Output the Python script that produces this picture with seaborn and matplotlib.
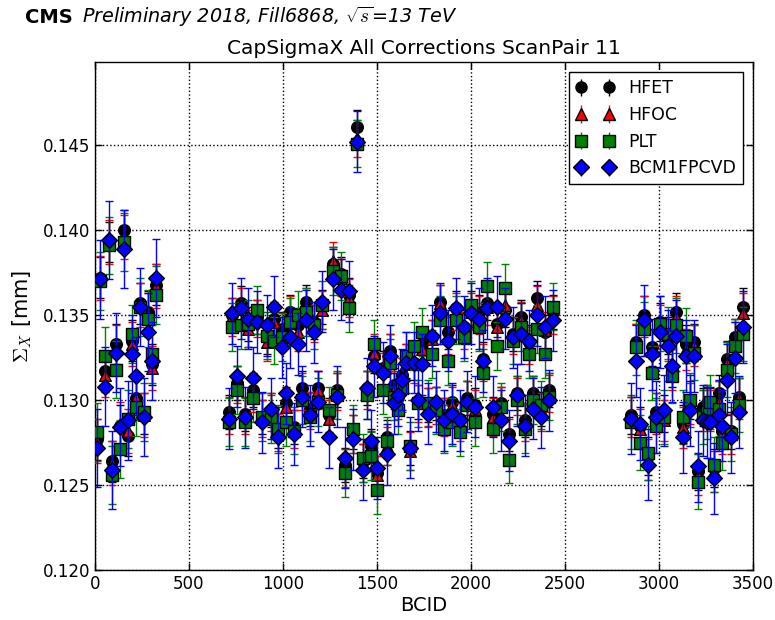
import numpy as np
import pandas as pd
import matplotlib
matplotlib.use("Agg")
import matplotlib.pyplot as plt
import seaborn as sns

# ---------------- data ----------------
bcid = [9, 27, 52, 73, 90, 112, 133, 154, 176, 197, 218, 239, 261, 282, 303, 323,
        714, 730, 754, 775, 798, 815, 839, 860, 890, 913, 935, 954, 975, 996, 1018, 1037,
        1060, 1080, 1101, 1121, 1142, 1165, 1186, 1206, 1246, 1268, 1289, 1308, 1330, 1351,
        1372, 1394, 1424, 1448, 1468, 1486, 1502, 1530, 1552, 1571, 1590, 1613, 1635, 1654,
        1676, 1697, 1720, 1739, 1771, 1793, 1814, 1835, 1856, 1877, 1899, 1919, 1940, 1961,
        1980, 2002, 2023, 2044, 2065, 2085, 2119, 2140, 2161, 2182, 2204, 2222, 2243, 2266,
        2287, 2308, 2330, 2351, 2372, 2394, 2413, 2434,
        2853, 2876, 2898, 2920, 2941, 2963, 2983, 3007, 3029, 3050, 3070, 3092, 3125, 3143,
        3166, 3188, 3210, 3232, 3254, 3273, 3295, 3317, 3337, 3361, 3383, 3404, 3426, 3446]

hfet = [.1277, .1372, .1317, .1393, .1264, .1333, .1285, .1400, .1279, .1335, .1301, .1357, .1292, .1352, .1321, .1368,
        .1293, .1350, .1310, .1357, .1292, .1345, .1306, .1349, .1290, .1337, .1294, .1348, .1282, .1342, .1298, .1352,
        .1284, .1344, .1307, .1358, .1295, .1346, .1307, .1355, .1291, .1380, .1306, .1374, .1262, .1362,
        .1281, .1461, .1264, .1307, .1273, .1326, .1257, .1319, .1278, .1329, .1309, .1302, .1315, .1323,
        .1272, .1322, .1299, .1333, .1297, .1337, .1298, .1358, .1291, .1340, .1299, .1354, .1289, .1343,
        .1301, .1354, .1297, .1352, .1324, .1357, .1292, .1345, .1298, .1353, .1280, .1339, .1304, .1349,
        .1288, .1334, .1304, .1360, .1295, .1340, .1306, .1352,
        .1291, .1334, .1285, .1350, .1267, .1331, .1293, .1346, .1292, .1338, .1319, .1352, .1286, .1333,
        .1300, .1334, .1258, .1296, .1298, .1296, .1260, .1304, .1282, .1324, .1282, .1337, .1302, .1355]

hfoc = [.1276, .1372, .1315, .1393, .1263, .1331, .1286, .1396, .1282, .1333, .1301, .1356, .1291, .1350, .1319, .1367,
        .1291, .1349, .1309, .1355, .1291, .1342, .1304, .1348, .1289, .1334, .1293, .1346, .1281, .1340, .1296, .1350,
        .1283, .1340, .1305, .1355, .1294, .1345, .1306, .1353, .1289, .1382, .1305, .1372, .1260, .1360,
        .1280, .1454, .1263, .1306, .1271, .1328, .1256, .1317, .1273, .1328, .1306, .1300, .1314, .1322,
        .1270, .1321, .1298, .1330, .1296, .1336, .1297, .1357, .1290, .1338, .1297, .1352, .1287, .1341,
        .1300, .1352, .1295, .1350, .1322, .1355, .1290, .1343, .1297, .1356, .1278, .1338, .1302, .1347,
        .1287, .1332, .1303, .1356, .1293, .1341, .1304, .1350,
        .1290, .1333, .1283, .1349, .1265, .1329, .1292, .1344, .1288, .1336, .1318, .1349, .1284, .1330,
        .1298, .1332, .1256, .1294, .1296, .1294, .1258, .1299, .1280, .1322, .1280, .1334, .1301, .1351]

plt_vals = [.1281, .1370, .1326, .1391, .1256, .1318, .1271, .1393, .1289, .1339, .1296, .1355, .1293, .1348, .1327, .1362,
            .1287, .1343, .1306, .1344, .1287, .1345, .1301, .1353, .1290, .1338, .1289, .1335, .1283, .1337, .1287, .1346,
            .1282, .1350, .1300, .1352, .1290, .1344, .1299, .1356, .1294, .1376, .1303, .1373, .1257, .1354,
            .1283, .1451, .1266, .1303, .1267, .1333, .1247, .1306, .1276, .1322, .1302, .1294, .1307, .1326,
            .1273, .1332, .1298, .1340, .1298, .1327, .1294, .1347, .1283, .1323, .1287, .1347, .1281, .1337,
            .1297, .1356, .1287, .1343, .1316, .1367, .1283, .1332, .1296, .1366, .1265, .1335, .1300, .1343,
            .1283, .1327, .1300, .1342, .1297, .1327, .1302, .1355,
            .1287, .1331, .1275, .1342, .1269, .1316, .1285, .1345, .1290, .1339, .1314, .1344, .1290, .1338,
            .1300, .1328, .1252, .1290, .1293, .1299, .1262, .1295, .1275, .1318, .1280, .1332, .1297, .1339]

bcm = [.1272, .1371, .1308, .1394, .1259, .1328, .1284, .1389, .1288, .1327, .1314, .1355, .1290, .1340, .1323, .1372,
       .1289, .1351, .1314, .1354, .1290, .1348, .1313, .1346, .1287, .1344, .1295, .1355, .1278, .1331, .1304, .1337,
       .1280, .1333, .1302, .1347, .1291, .1340, .1299, .1358, .1278, .1371, .1302, .1365, .1266, .1364,
       .1277, .1452, .1259, .1307, .1276, .1320, .1260, .1316, .1268, .1326, .1298, .1303, .1312, .1322,
       .1272, .1322, .1300, .1321, .1292, .1338, .1299, .1351, .1288, .1335, .1292, .1354, .1288, .1343,
       .1299, .1351, .1296, .1348, .1323, .1354, .1296, .1355, .1288, .1348, .1276, .1337, .1303, .1339,
       .1285, .1335, .1295, .1350, .1290, .1343, .1300, .1347,
       .1289, .1323, .1286, .1347, .1262, .1327, .1290, .1340, .1294, .1332, .1320, .1338, .1278, .1326,
       .1294, .1326, .1261, .1288, .1287, .1287, .1254, .1291, .1285, .1312, .1278, .1325, .1293, .1343]

detectors = ["HFET", "HFOC", "PLT", "BCM1FPCVD"]
train_edges = [500, 2600]
err_hfet = [0.0012, 0.0010, 0.0011]
err_hfoc = [0.0013, 0.0011, 0.0012]
err_plt = [0.0017, 0.0014, 0.0016]
err_bcm = [0.0023, 0.0018, 0.0021]

# ---------------- build table ----------------
train = np.searchsorted(train_edges, bcid)
frames = []
for name, vals, errs in zip(detectors, [hfet, hfoc, plt_vals, bcm],
                            [err_hfet, err_hfoc, err_plt, err_bcm]):
    frames.append(pd.DataFrame({"BCID": bcid, "value": vals,
                                "err": np.asarray(errs)[train], "detector": name}))
df = pd.concat(frames, ignore_index=True)

# ---------------- style ----------------
sns.set_theme(style="ticks")
plt.rcParams.update({
    "font.family": ["DejaVu Sans"],
    "mathtext.fontset": "cm",
    "xtick.direction": "in", "ytick.direction": "in",
    "xtick.top": True, "ytick.right": True,
    "xtick.major.size": 5, "ytick.major.size": 5,
    "xtick.major.width": 1, "ytick.major.width": 1,
    "axes.edgecolor": "black", "axes.linewidth": 1.0,
    "xtick.color": "black", "ytick.color": "black",
    "text.color": "black", "axes.labelcolor": "black",
})

colors = {"HFET": "#000000", "HFOC": "#ff0000", "PLT": "#008000", "BCM1FPCVD": "#0000ff"}
markers = {"HFET": "o", "HFOC": "^", "PLT": "s", "BCM1FPCVD": "D"}
sizes = {"HFET": 70, "HFOC": 70, "PLT": 64, "BCM1FPCVD": 64}

fig = plt.figure(figsize=(7.75, 6.2), dpi=100)
ax = fig.add_axes([95 / 775, 50 / 620, 658 / 775, 508 / 620])

handles = []
for i, det in enumerate(detectors):
    sub = df[df["detector"] == det]
    z = 3 + 2 * i
    ax.errorbar(sub["BCID"], sub["value"], yerr=sub["err"], fmt="none",
                ecolor=colors[det], elinewidth=1.0, capsize=3, capthick=1.0, zorder=z)
    sns.scatterplot(data=sub, x="BCID", y="value", marker=markers[det], color=colors[det],
                    s=sizes[det], edgecolor="black", linewidth=1.0, ax=ax, zorder=z + 1,
                    legend=False)
    h = ax.errorbar([], [], yerr=[], fmt=markers[det], color=colors[det], mfc=colors[det],
                    mec="black", mew=1.0, ms=8, ecolor=colors[det], elinewidth=1.0,
                    capsize=3, capthick=1.0, label=det)
    handles.append(h)

ax.set_xlim(0, 3500)
ax.set_ylim(0.120, 0.1499)
ax.set_xticks([0, 500, 1000, 1500, 2000, 2500, 3000, 3500])
ax.set_yticks([0.120, 0.125, 0.130, 0.135, 0.140, 0.145])
ax.set_yticklabels(["0.120", "0.125", "0.130", "0.135", "0.140", "0.145"])
ax.tick_params(labelsize=12)
ax.grid(True, linestyle=":", color="black", linewidth=1.0)
ax.set_axisbelow(True)

ax.set_xlabel("BCID", fontsize=14, labelpad=2)
ax.set_ylabel(r"$\Sigma_X$ [mm]", fontsize=15, labelpad=6)
ax.set_title("CapSigmaX All Corrections ScanPair 11", fontsize=14.5, pad=6)

leg = ax.legend(handles=handles, labels=detectors, loc="upper right", numpoints=2,
                fancybox=False, framealpha=1, edgecolor="black", fontsize=12.5,
                borderaxespad=0.6, handlelength=2.2)
leg.get_frame().set_linewidth(1.0)

fig.text(25 / 775, 1 - 23 / 620, "CMS", fontsize=14, fontweight="bold", va="baseline")
fig.text(82 / 775, 1 - 23 / 620, r"Preliminary 2018, Fill6868, $\sqrt{s}$=13 TeV",
         fontsize=13.8, style="italic", va="baseline")

fig.savefig("out.png", dpi=100)
